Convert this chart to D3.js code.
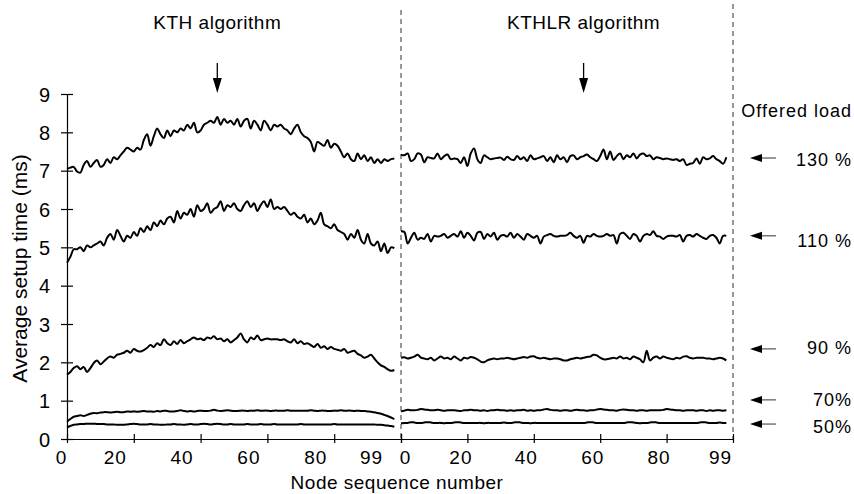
<!DOCTYPE html><html lang="en"><head><meta charset="UTF-8"><title>Average setup time per node</title><script src="https://d3js.org/d3.v7.min.js"></script><style>
        body {
            margin: 0;
            background: #fff;
        }
        svg {
            display: block;
            font-family: "Liberation Sans", Arial, sans-serif;
            fill: #000;
        }
        .axis path, .axis line {
            stroke: #000;
            stroke-width: 1.2px;
        }
        .axis text {
            fill: #000;
            font-family: "Liberation Sans", Arial, sans-serif;
        }
        .series {
            fill: none;
            stroke: #000;
            stroke-width: 2px;
            stroke-linejoin: round;
        }
        .divider {
            stroke: #333;
            stroke-width: 1px;
            stroke-dasharray: 5,4;
        }
    </style></head><body><svg id="chart" width="854" height="494"></svg><script>
        // panel titles and offered load labels
        const panels = ["KTH algorithm", "KTHLR algorithm"];
        const loads = ["130 %", "110 %", "90 %", "70%", "50%"];
        const arrowLevels = [7.33, 5.3, 2.35, 1.02, 0.39];
        const labelLevels = [7.3, 5.18, 2.38, 1.02, 0.32];
        const xTicks = [0, 20, 40, 60, 80, 100];
        const xTickLabels = ["0", "20", "40", "60", "80", "99"];
        const yTicks = [0, 1, 2, 3, 4, 5, 6, 7, 8, 9];

        // KTH, nodes 0..98
        const kth130 = [
            7.05,7.08,7.1,6.98,6.95,7.15,7.25,7.1,7.2,7.28,
            7.1,7.15,7.3,7.2,7.35,7.3,7.4,7.5,7.6,7.55,
            7.5,7.6,7.55,7.8,7.95,7.65,7.9,8.1,7.95,7.85,
            8.05,7.9,8.05,8.0,8.1,8.05,8.2,8.1,8.25,8.0,
            8.05,8.2,8.25,8.3,8.25,8.4,8.2,8.35,8.25,8.3,
            8.2,8.35,8.15,8.3,8.35,8.1,8.3,8.2,8.05,8.3,
            8.2,8.05,8.2,8.15,8.2,8.1,8.05,7.95,8.1,8.2,
            8.0,7.9,7.85,7.75,7.5,7.75,7.7,7.65,7.8,7.6,
            7.7,7.65,7.5,7.35,7.45,7.3,7.25,7.45,7.3,7.4,
            7.25,7.35,7.2,7.3,7.2,7.3,7.25,7.3,7.32];
        const kth110 = [
            4.6,4.75,4.95,4.95,5.0,4.9,5.05,5.0,5.05,5.1,
            5.15,5.05,5.25,5.35,5.2,5.45,5.3,5.15,5.3,5.25,
            5.4,5.3,5.5,5.4,5.55,5.45,5.65,5.55,5.7,5.6,
            5.75,5.8,5.65,5.95,5.75,5.9,5.85,6.0,5.8,6.1,
            5.95,6.0,6.15,5.9,6.0,6.05,6.2,5.95,6.1,6.05,
            6.15,6.0,5.95,6.1,6.2,6.05,6.15,5.95,6.1,6.2,
            6.05,6.25,6.0,6.05,6.0,6.05,5.95,5.85,5.9,5.8,
            5.75,5.85,5.65,5.75,5.6,5.7,5.9,5.6,5.55,5.5,
            5.6,5.45,5.4,5.35,5.2,5.35,5.25,5.45,5.2,5.1,
            5.35,5.1,5.05,5.15,4.9,5.1,4.85,5.0,4.98];
        const kth90 = [
            1.68,1.75,1.85,1.9,1.82,1.88,1.75,1.85,1.98,2.05,
            1.95,2.02,2.1,2.15,2.12,2.2,2.22,2.25,2.3,2.25,
            2.35,2.3,2.28,2.32,2.38,2.45,2.4,2.5,2.45,2.6,
            2.5,2.45,2.55,2.48,2.58,2.5,2.55,2.6,2.65,2.6,
            2.62,2.58,2.65,2.62,2.68,2.6,2.62,2.55,2.6,2.52,
            2.58,2.65,2.75,2.6,2.52,2.65,2.6,2.7,2.58,2.6,
            2.62,2.6,2.6,2.6,2.58,2.6,2.55,2.52,2.6,2.5,
            2.55,2.48,2.5,2.45,2.4,2.48,2.38,2.42,2.35,2.4,
            2.35,2.33,2.3,2.35,2.25,2.28,2.3,2.22,2.18,2.12,
            2.15,2.2,2.1,2.0,1.92,1.88,1.82,1.78,1.8];
        const kth70 = [
            0.45,0.52,0.58,0.6,0.62,0.6,0.63,0.66,0.68,0.67,
            0.69,0.7,0.7,0.69,0.7,0.71,0.7,0.7,0.72,0.71,
            0.72,0.71,0.72,0.73,0.72,0.72,0.71,0.73,0.72,0.74,
            0.73,0.72,0.72,0.73,0.75,0.73,0.72,0.73,0.72,0.73,
            0.74,0.73,0.73,0.74,0.76,0.74,0.73,0.74,0.75,0.74,
            0.73,0.73,0.74,0.74,0.73,0.74,0.74,0.75,0.74,0.74,
            0.74,0.73,0.74,0.74,0.74,0.74,0.75,0.74,0.74,0.74,
            0.74,0.74,0.74,0.75,0.74,0.73,0.74,0.74,0.73,0.73,
            0.74,0.74,0.75,0.74,0.74,0.74,0.73,0.74,0.73,0.73,
            0.72,0.71,0.7,0.68,0.66,0.63,0.6,0.56,0.52];
        const kth50 = [
            0.3,0.34,0.37,0.38,0.39,0.39,0.4,0.4,0.4,0.39,
            0.39,0.39,0.38,0.38,0.38,0.37,0.37,0.37,0.38,0.39,
            0.4,0.39,0.38,0.38,0.38,0.39,0.38,0.38,0.37,0.37,
            0.38,0.38,0.39,0.38,0.38,0.37,0.38,0.39,0.38,0.38,
            0.39,0.4,0.39,0.38,0.39,0.4,0.39,0.38,0.38,0.39,
            0.38,0.38,0.38,0.38,0.39,0.38,0.38,0.38,0.39,0.38,
            0.38,0.38,0.39,0.38,0.38,0.38,0.38,0.38,0.38,0.38,
            0.39,0.38,0.38,0.38,0.38,0.38,0.38,0.38,0.38,0.38,
            0.39,0.38,0.38,0.38,0.38,0.38,0.38,0.38,0.38,0.38,
            0.38,0.38,0.38,0.37,0.37,0.36,0.35,0.34,0.32];

        // KTHLR, nodes 0..98
        const lr130 = [
            7.42,7.4,7.45,7.25,7.3,7.45,7.42,7.22,7.35,7.33,
            7.32,7.45,7.3,7.38,7.42,7.3,7.32,7.3,7.2,7.35,
            7.12,7.45,7.58,7.3,7.2,7.4,7.35,7.3,7.32,7.33,
            7.34,7.28,7.36,7.3,7.28,7.38,7.3,7.35,7.25,7.4,
            7.3,7.32,7.35,7.38,7.25,7.35,7.22,7.4,7.3,7.35,
            7.22,7.38,7.4,7.3,7.35,7.38,7.42,7.35,7.3,7.25,
            7.38,7.55,7.3,7.5,7.28,7.38,7.45,7.3,7.4,7.35,
            7.45,7.32,7.42,7.45,7.38,7.4,7.3,7.35,7.33,7.3,
            7.32,7.3,7.28,7.3,7.25,7.3,7.15,7.18,7.2,7.32,
            7.18,7.35,7.3,7.32,7.38,7.3,7.25,7.18,7.35];
        const lr110 = [
            5.42,5.4,5.1,5.25,5.38,5.2,5.25,5.22,5.35,5.15,
            5.3,5.28,5.3,5.35,5.25,5.3,5.35,5.28,5.42,5.25,
            5.38,5.3,5.18,5.38,5.4,5.22,5.35,5.28,5.38,5.2,
            5.3,5.32,5.28,5.38,5.25,5.35,5.28,5.2,5.35,5.3,
            5.25,5.3,5.1,5.28,5.32,5.35,5.3,5.28,5.3,5.3,
            5.32,5.38,5.3,5.25,5.3,5.12,5.3,5.28,5.35,5.3,
            5.28,5.3,5.35,5.3,5.32,5.1,5.35,5.38,5.3,5.22,
            5.35,5.3,5.15,5.3,5.35,5.32,5.42,5.3,5.28,5.22,
            5.28,5.3,5.3,5.28,5.32,5.15,5.3,5.32,5.28,5.35,
            5.3,5.25,5.22,5.3,5.32,5.25,5.1,5.3,5.3];
        const lr90 = [
            2.12,2.13,2.1,2.12,2.15,2.2,2.12,2.1,2.08,2.12,
            2.05,2.1,2.15,2.1,2.12,2.08,2.15,2.1,2.05,2.12,
            2.1,2.14,2.12,2.08,2.02,2.0,2.05,2.08,2.1,2.08,
            2.1,2.1,2.12,2.1,2.08,2.1,2.12,2.14,2.12,2.15,
            2.16,2.12,2.1,2.12,2.1,2.08,2.1,2.1,2.08,2.05,
            2.05,2.08,2.1,2.12,2.1,2.12,2.14,2.15,2.2,2.18,
            2.12,2.08,2.08,2.1,2.12,2.1,2.15,2.1,2.12,2.08,
            2.15,2.12,2.08,2.0,2.3,2.05,2.12,2.15,2.1,2.15,
            2.12,2.1,2.08,2.12,2.1,2.15,2.16,2.12,2.1,2.12,
            2.12,2.12,2.1,2.1,2.08,2.1,2.12,2.1,2.05];
        const lr70 = [
            0.72,0.74,0.76,0.75,0.75,0.76,0.78,0.77,0.76,0.75,
            0.75,0.76,0.75,0.74,0.75,0.75,0.75,0.74,0.73,0.75,
            0.75,0.76,0.75,0.75,0.74,0.75,0.73,0.75,0.75,0.76,
            0.75,0.75,0.74,0.75,0.74,0.75,0.75,0.76,0.74,0.75,
            0.74,0.75,0.75,0.77,0.78,0.76,0.75,0.75,0.74,0.75,
            0.75,0.74,0.75,0.76,0.75,0.75,0.74,0.75,0.75,0.77,
            0.78,0.77,0.76,0.75,0.75,0.74,0.76,0.77,0.76,0.75,
            0.75,0.74,0.75,0.75,0.74,0.75,0.75,0.75,0.75,0.76,
            0.78,0.77,0.76,0.75,0.75,0.74,0.75,0.75,0.75,0.74,
            0.75,0.75,0.73,0.75,0.74,0.75,0.75,0.74,0.75];
        const lr50 = [
            0.41,0.42,0.42,0.44,0.43,0.42,0.42,0.43,0.44,0.43,
            0.42,0.42,0.42,0.41,0.42,0.42,0.43,0.44,0.43,0.42,
            0.42,0.42,0.42,0.42,0.42,0.41,0.42,0.42,0.42,0.42,
            0.42,0.43,0.42,0.42,0.43,0.44,0.43,0.42,0.42,0.41,
            0.42,0.42,0.42,0.42,0.42,0.42,0.42,0.42,0.42,0.42,
            0.42,0.42,0.42,0.42,0.42,0.42,0.43,0.44,0.43,0.42,
            0.42,0.42,0.42,0.42,0.42,0.42,0.42,0.42,0.43,0.44,
            0.43,0.42,0.41,0.42,0.42,0.43,0.44,0.43,0.42,0.42,
            0.42,0.42,0.42,0.42,0.42,0.42,0.42,0.42,0.42,0.42,
            0.43,0.44,0.43,0.42,0.42,0.42,0.43,0.42,0.42];

        const svg = d3.select("#chart");

        const y = d3.scaleLinear().domain([0, 9]).range([439, 94]);
        const xL = d3.scaleLinear().domain([0, 100]).range([67, 401]);
        const xR = d3.scaleLinear().domain([0, 100]).range([401, 733]);

        // dashed dividers
        svg.append("line").attr("class", "divider")
            .attr("x1", xL(100)).attr("x2", xL(100)).attr("y1", 10).attr("y2", y(0));
        svg.append("line").attr("class", "divider")
            .attr("x1", xR(100)).attr("x2", xR(100)).attr("y1", 4).attr("y2", y(0));

        // y axis
        const yAxis = svg.append("g").attr("class", "axis")
            .attr("transform", `translate(${xL(0)},0)`)
            .call(d3.axisLeft(y).tickValues(yTicks).tickSizeOuter(0).tickSizeInner(6));
        yAxis.selectAll(".tick line").attr("x1", -6).attr("x2", 6);
        yAxis.selectAll(".tick text").attr("x", -17).attr("dy", "0.36em").style("font-size", "20px");

        // x axes, labels sit a bit left of their ticks in the original
        const shiftL = [-6, -19, -19, -19, -19, -30];
        const shiftR = [4, -7, -8, -8, -8, -13];
        [[xL, shiftL], [xR, shiftR]].forEach(([sx, shift]) => {
            const g = svg.append("g").attr("class", "axis")
                .attr("transform", `translate(0,${y(0)})`)
                .call(d3.axisBottom(sx).tickValues(xTicks)
                    .tickFormat((d, i) => xTickLabels[i]).tickSizeOuter(0));
            g.selectAll(".tick line").attr("y1", -5).attr("y2", 4);
            g.selectAll(".tick text")
                .attr("y", 25).attr("dy", 0)
                .attr("dx", (d, i) => shift[i])
                .style("font-size", "19px")
                .style("letter-spacing", "1px");
        });

        svg.append("text")
            .attr("x", 397).attr("y", 489)
            .attr("text-anchor", "middle")
            .style("font-size", "19px")
            .style("letter-spacing", "0.5px")
            .text("Node sequence number");

        svg.append("text")
            .attr("transform", `translate(27,${y(4.5) + 2}) rotate(-90)`)
            .attr("text-anchor", "middle")
            .style("font-size", "21px")
            .text("Average setup time (ms)");

        // series
        const line = sx => d3.line()
            .x((d, i) => sx(i))
            .y(d => y(d))
            .curve(d3.curveCatmullRom.alpha(0.5));

        const kthSeries = [kth130, kth110, kth90, kth70, kth50];
        const lrSeries = [lr130, lr110, lr90, lr70, lr50];

        svg.selectAll(".kth").data(kthSeries).enter()
            .append("path").attr("class", "series kth")
            .attr("d", line(xL));
        svg.selectAll(".lr").data(lrSeries).enter()
            .append("path").attr("class", "series lr")
            .attr("d", line(xR));

        // panel titles with the down arrows
        const titleAt = [xL(45), xR(55)];
        panels.forEach((t, i) => {
            const cx = titleAt[i];
            svg.append("text")
                .attr("x", cx).attr("y", 29)
                .attr("text-anchor", "middle")
                .style("font-size", "19px")
                .style("letter-spacing", "0.5px")
                .text(t);
            svg.append("line")
                .attr("x1", cx).attr("x2", cx).attr("y1", 63).attr("y2", 80)
                .attr("stroke", "#000").attr("stroke-width", 1.3);
            svg.append("path")
                .attr("d", `M${cx - 4.5},78 L${cx + 4.5},78 L${cx},93 Z`)
                .attr("fill", "#000");
        });

        // offered load legend on the right
        svg.append("text")
            .attr("x", 852).attr("y", 117)
            .attr("text-anchor", "end")
            .style("font-size", "18px")
            .style("letter-spacing", "1px")
            .text("Offered load");

        loads.forEach((lab, i) => {
            const ay = y(arrowLevels[i]);
            svg.append("line")
                .attr("x1", 760).attr("x2", 776).attr("y1", ay).attr("y2", ay)
                .attr("stroke", "#333").attr("stroke-width", 1);
            svg.append("path")
                .attr("d", `M750,${ay} L762,${ay - 4} L762,${ay + 4} Z`)
                .attr("fill", "#000");
            svg.append("text")
                .attr("x", 852).attr("y", y(labelLevels[i]))
                .attr("dy", "0.36em")
                .attr("text-anchor", "end")
                .style("font-size", "18px")
                .style("letter-spacing", "1px")
                .text(lab);
        });
    </script></body></html>
